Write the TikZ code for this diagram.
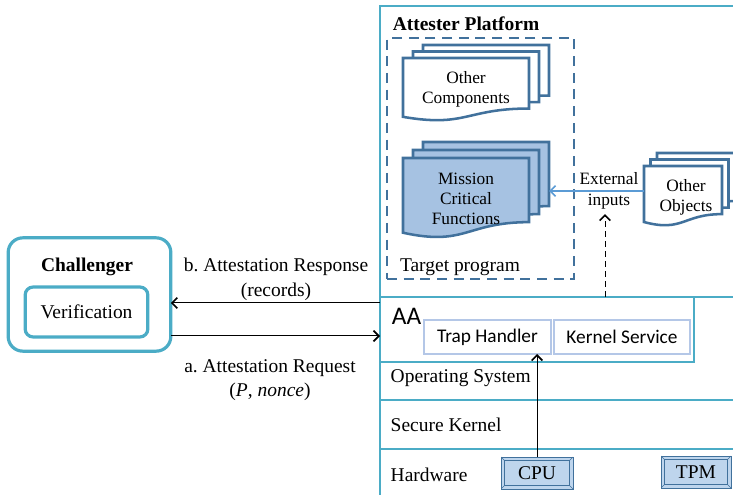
\documentclass[tikz,border=0pt]{standalone}
\usepackage{fontspec}
\setmainfont{Liberation Serif}
\newfontfamily\calibri{Carlito}
\usetikzlibrary{arrows.meta}
\frenchspacing

\definecolor{lblue}{RGB}{75,172,198}
\definecolor{dblue}{RGB}{65,113,156}
\definecolor{mfill}{RGB}{166,194,226}
\definecolor{chipfill}{RGB}{190,213,237}
\definecolor{subline}{RGB}{180,199,231}
\definecolor{inblue}{RGB}{91,155,213}

\newcommand{\txtsize}{\fontsize{14.6}{18.5}\selectfont}
\newcommand{\docsize}{\fontsize{13}{15}\selectfont}

% one page of a document stack: left, top, width, height, fill
\newcommand{\docpage}[5]{%
  \draw[docline,fill=#5] ({#1},{#2}) -- ({#1+#3},{#2}) -- ({#1+#3},{#2+0.802*#4})
    .. controls ({#1+0.5*#3},{#2+0.802*#4}) and ({#1+0.5*#3},{#2+1.107*#4}) .. ({#1},{#2+0.934*#4}) -- cycle;}
% three pages, back to front: left, top, width, height, dx, dy, fill
\newcommand{\multidoc}[7]{%
  \docpage{#1+2*#5}{#2-2*#6}{#3}{#4}{#7}
  \docpage{#1+#5}{#2-#6}{#3}{#4}{#7}
  \docpage{#1}{#2}{#3}{#4}{#7}}

\begin{document}
\begin{tikzpicture}[x=0.75pt,y=-0.75pt,
  every node/.style={font=\txtsize},
  box/.style={draw=lblue,line width=2.2pt,outer sep=0pt,inner sep=0pt},
  rbox/.style={draw=lblue,line width=2.4pt,outer sep=0pt},
  sub/.style={draw=subline,line width=0.8pt,outer sep=0pt,inner sep=0pt,font=\calibri\fontsize{14.5}{17}\selectfont,minimum height=25.5pt},
  tgtbox/.style={draw=dblue,line width=1.9pt,dash pattern=on 7.5pt off 5pt,outer sep=0pt,inner sep=0pt},
  docline/.style={draw=dblue,line width=1.9pt},
  chip/.style={draw=dblue,line width=0.6pt,fill=chipfill,minimum width=54pt,minimum height=24pt,inner sep=0pt,outer sep=0pt,
    path picture={
      \draw[dblue,line width=0.5pt] ([shift={(2.5pt,2.5pt)}]path picture bounding box.south west) rectangle ([shift={(-2.5pt,-2.5pt)}]path picture bounding box.north east);
      \draw[dblue,line width=0.4pt] (path picture bounding box.south west) -- ++(2.5pt,2.5pt)
        (path picture bounding box.north east) -- ++(-2.5pt,-2.5pt)
        (path picture bounding box.north west) -- ++(2.5pt,-2.5pt)
        (path picture bounding box.south east) -- ++(-2.5pt,2.5pt);}},
  arr/.style={-{Straight Barb[length=4pt,width=8pt,line width=1.2pt]},line width=0.75pt},
  barr/.style={-{Straight Barb[length=4pt,width=8pt,line width=1.2pt]},line width=1.1pt,draw=inblue}]
\useasboundingbox (0,0) rectangle (733,495);

% challenger side
\node[rbox,rounded corners=11pt,minimum width=122pt,minimum height=85pt] (chal) at (89.5,294.5) {};
\node[font=\txtsize\bfseries] (chaltitle) at (87,267) {Challenger};
\node[rbox,rounded corners=6pt,minimum width=92pt,minimum height=37.5pt] (verif) at (86.5,312) {Verification};

% attester platform and its layers
\node[box,anchor=north west,minimum width=285pt,minimum height=390pt] (plat) at (380,6) {};
\node[font=\txtsize\bfseries] (plattitle) at (466,24) {Attester Platform};
\node[box,anchor=north west,minimum width=285pt,minimum height=77.25pt] (os) at (380,297) {};
\node[box,anchor=north west,minimum width=285pt,minimum height=36.75pt] (sk) at (380,400) {};
\node[box,anchor=north west,minimum width=285pt,minimum height=60pt] (hw) at (380,449) {};
\node[anchor=west] (ostxt) at (386,378) {Operating System};
\node[anchor=west] (sktxt) at (386,425) {Secure Kernel};
\node[anchor=west] (hwtxt) at (386,475) {Hardware};

% attestation agent
\node[box,anchor=north west,minimum width=235.5pt,minimum height=48.75pt] (aa) at (380,297) {};
\node[font=\calibri\fontsize{19}{22}\selectfont] (aatxt) at (406.5,316) {AA};
\node[sub,minimum width=95.25pt] (trap) at (487.5,337) {Trap Handler};
\node[sub,minimum width=102pt] (ksvc) at (622,337) {Kernel Service};

% hardware parts
\node[chip] (cpu) at (537,473) {CPU};
\node[chip,minimum width=52.5pt] (tpm) at (696,472) {TPM};

% target program
\node[tgtbox,anchor=north west,minimum width=140.25pt,minimum height=180.75pt] (tgt) at (387,38) {};
\node (tgttxt) at (460,267) {Target program};
\multidoc{403}{58}{126}{63}{10}{6.5}{white}
\node[font=\docsize,align=center] (oc) at (466,89) {Other\\Components};
\multidoc{403}{158}{126}{80}{10}{8}{mfill}
\node[font=\docsize,align=center] (mcf) at (466,199) {Mission\\Critical\\Functions};

% outside objects
\multidoc{644}{166}{78}{60}{6.5}{6.5}{white}
\node[font=\docsize,align=center] (oo) at (686,197) {Other\\Objects};
\coordinate (ooL) at (644,191);
\coordinate (mcR) at (549,191);
\draw[barr] (ooL) -- (mcR);
\node[font=\fontsize{13}{15.75}\selectfont,align=center] (ext) at (609,191) {External\\inputs};

% arrows
\coordinate (respy) at (0,303);
\coordinate (reqy) at (0,336);
\coordinate (dashx) at (605,0);
\draw[arr] (plat.west |- respy) -- (chal.east |- respy);
\draw[arr] (chal.east |- reqy) -- (plat.west |- reqy);
\node[align=center] (resp) at (276,279.5) {b. Attestation Response\\(records)};
\node[align=center] (req) at (270,380) {a. Attestation Request\\(\textit{P}, \textit{nonce})};
\draw[arr] (cpu.north) -- (cpu.north |- trap.south);
\draw[arr,dash pattern=on 4.5pt off 3pt] (aa.north -| dashx) -- (dashx |- ext.south);
\end{tikzpicture}
\end{document}
